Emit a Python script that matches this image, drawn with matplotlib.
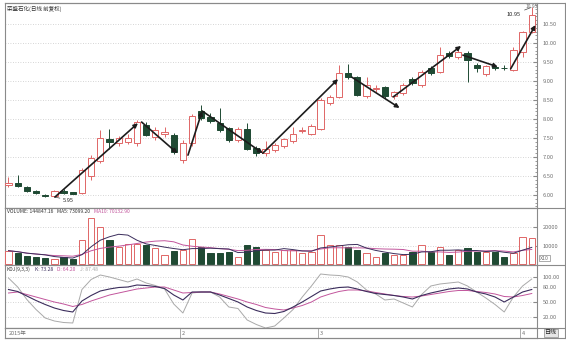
import matplotlib
matplotlib.use("Agg")
import matplotlib.pyplot as plt
import numpy as np
import pandas as pd
from matplotlib.lines import Line2D
from matplotlib.ticker import FixedLocator, MultipleLocator

plt.rcParams['font.family'] = ['Noto Sans CJK SC', 'DejaVu Sans']

# ---------------- data ----------------
opens = [6.26, 6.32, 6.21, 6.10, 6.01, 5.97, 6.12, 6.07, 6.05, 6.50,
         6.90, 7.47, 7.37, 7.40, 7.37, 7.84, 7.53, 7.60, 7.58, 6.92,
         7.37, 8.21, 8.05, 7.89, 7.76, 7.45, 7.74, 7.24, 7.10, 7.18,
         7.29, 7.42, 7.68, 7.61, 7.74, 8.42, 8.58, 9.21, 9.10, 8.60,
         8.80, 8.84, 8.60, 8.68, 9.05, 8.89, 9.34, 9.24, 9.74, 9.63,
         9.74, 9.42, 9.18, 9.38, 9.35, 9.29, 9.76, 10.29]
highs = [6.47, 6.53, 6.24, 6.13, 6.04, 6.13, 6.16, 6.09, 6.70, 7.05,
         7.71, 7.74, 7.55, 7.60, 7.97, 7.92, 7.80, 7.80, 7.62, 7.45,
         8.12, 8.37, 8.15, 8.29, 7.80, 7.78, 7.89, 7.28, 7.42, 7.36,
         7.50, 7.79, 7.78, 7.86, 8.55, 8.63, 9.42, 9.45, 9.14, 9.10,
         8.90, 8.88, 8.74, 8.95, 9.10, 9.30, 9.40, 9.90, 9.80, 9.85,
         9.80, 9.46, 9.42, 9.42, 9.42, 9.88, 10.32, 10.95]
lows = [6.20, 6.20, 6.08, 6.02, 5.96, 5.95, 6.03, 6.02, 6.02, 6.40,
        6.85, 7.20, 7.30, 7.35, 7.30, 7.55, 7.45, 7.52, 7.08, 6.85,
        7.30, 7.98, 7.90, 7.66, 7.40, 7.40, 7.18, 7.02, 7.02, 7.14,
        7.25, 7.38, 7.62, 7.58, 7.70, 8.37, 8.55, 9.05, 8.60, 8.55,
        8.72, 8.55, 8.52, 8.63, 8.90, 8.85, 9.15, 9.20, 9.60, 9.58,
        8.97, 9.24, 9.14, 9.30, 9.28, 9.25, 9.63, 10.25]
closes = [6.32, 6.24, 6.10, 6.05, 5.97, 6.10, 6.05, 6.04, 6.66, 6.97,
          7.50, 7.39, 7.50, 7.50, 7.92, 7.58, 7.71, 7.66, 7.13, 7.37,
          8.08, 8.03, 7.95, 7.71, 7.45, 7.74, 7.21, 7.10, 7.20, 7.32,
          7.47, 7.61, 7.71, 7.82, 8.50, 8.58, 9.21, 9.10, 8.63, 8.89,
          8.82, 8.60, 8.70, 8.90, 8.95, 9.24, 9.21, 9.68, 9.66, 9.76,
          9.55, 9.34, 9.39, 9.34, 9.34, 9.82, 10.29, 10.74]
volumes = [7200, 6100, 4300, 4000, 3200, 2500, 3700, 2700, 13000, 24700,
           20200, 13000, 9400, 10800, 10800, 10300, 8800, 4900, 7000, 7600,
           13300, 9000, 5800, 5800, 6700, 3600, 10300, 9400, 7600, 6700,
           7600, 7600, 5800, 6700, 15700, 10300, 10300, 9000, 7600, 5800,
           4000, 5800, 4900, 4900, 6700, 10300, 6300, 9000, 4900, 7600,
           8500, 6400, 6400, 6400, 4000, 5800, 14800, 13900]
k_vals = [75, 71, 62, 53, 45, 38, 33, 30, 52, 63,
          72, 76, 79, 80, 84, 83, 81, 77, 64, 54,
          70, 70, 70, 64, 57, 50, 40, 33, 28, 27,
          31, 40, 50, 61, 72, 76, 79, 80, 76, 71,
          67, 65, 63, 60, 56, 63, 68, 72, 76, 78,
          76, 70, 66, 60, 50, 60, 70, 75]
d_vals = [68, 70, 65, 60, 55, 50, 46, 41, 45, 52,
          58, 64, 68, 72, 76, 78, 80, 80, 74, 68,
          69, 70, 70, 66, 61, 56, 50, 45, 39, 36,
          34, 38, 43, 50, 60, 66, 71, 74, 74, 72,
          69, 66, 63, 61, 60, 62, 65, 68, 71, 73,
          73, 71, 69, 66, 61, 60, 63, 67]
j_vals = [98, 80, 55, 35, 18, 12, 9, 8, 75, 95,
          104, 100, 95, 90, 96, 88, 83, 76, 46, 28,
          68, 70, 70, 60, 40, 37, 14, 5, -2, 2,
          18, 35, 60, 82, 106, 104, 103, 100, 90, 74,
          66, 54, 56, 48, 40, 65, 82, 86, 88, 90,
          82, 70, 58, 45, 30, 60, 82, 96]

month_labels = ["2015年", "2", "3", "4"]
month_starts = [0, 19, 34, 56]

price_ticks = [6.0, 6.5, 7.0, 7.5, 8.0, 8.5, 9.0, 9.5, 10.0, 10.5]
vol_ticks = [10000, 20000]
kdj_ticks = [20, 50, 80, 100]

# trend arrows (start index, start price, end index, end price)
arrow_x0 = [5.07, 14.5, 19.55, 21.1, 27.7, 37.4, 41.9, 49.5, 54.7]
arrow_y0 = [5.95, 7.92, 7.05, 8.21, 7.10, 9.10, 8.58, 9.68, 9.32]
arrow_x1 = [14.1, 18.4, 21.1, 27.7, 35.9, 42.6, 49.3, 53.3, 57.4]
arrow_y1 = [7.89, 7.10, 8.21, 7.10, 9.05, 8.29, 9.92, 9.37, 10.47]

title_text = "荣盛石化(日线 前复权)"
vol_header = ["VOLUME: 144847.16", "MA5: 73099.20", "MA10: 70132.90"]
kdj_header = ["KDJ(9,3,3)", "K: 73.28", "D: 64.20", "J: 87.48"]

# ---------------- styling ----------------
W, H = 566, 340
UP = '#e06666'
DOWN = '#1f4a33'
GRID = '#c8c8c8'
FRAME = '#8a8a8a'
LAB = '#707070'
K_C = '#3b2d5c'
D_C = '#c2559c'
J_C = '#a9a9a9'

fig = plt.figure(figsize=(W / 100, H / 100), dpi=100)
fig.patch.set_facecolor('white')


def fax(x0, y0, x1, y1):
    return fig.add_axes([x0 / W, 1 - y1 / H, (x1 - x0) / W, (y1 - y0) / H])


ax = fax(5, 3, 537, 208)
axv = fax(5, 208, 537, 265)
axk = fax(5, 265, 537, 328)
axd = fax(5, 328, 537, 338)

n = len(opens)
x = np.arange(n)
o = np.array(opens); c = np.array(closes)
h = np.array(highs); l = np.array(lows)
up = c >= o
blo = np.minimum(o, c); bhi = np.maximum(o, c)
bh = np.maximum(bhi - blo, 0.006)
cols = np.where(up, UP, DOWN)
xlim = (-0.38, 57.57)

for a in (ax, axv, axk, axd):
    a.set_xlim(*xlim)
    a.set_xticks([])
    for s in a.spines.values():
        s.set_color(FRAME)
        s.set_linewidth(0.8)
    a.tick_params(axis='y', which='both', right=True, left=False,
                  labelright=True, labelleft=False, direction='in',
                  colors=FRAME, labelcolor=LAB, labelsize=4.1, pad=4)


def header(axis, parts, colours, size=3.6):
    t = axis.text(0.003, 0.975, parts[0], transform=axis.transAxes,
                  fontsize=size, color=colours[0], ha='left', va='top')
    for txt, col in zip(parts[1:], colours[1:]):
        t = axis.annotate(txt, xy=(1, 0), xycoords=t, xytext=(3, 0),
                          textcoords='offset points', fontsize=size,
                          color=col, ha='left', va='bottom')


# ---- main price panel ----
ax.set_ylim(5.66, 11.05)
ax.yaxis.set_major_locator(FixedLocator(price_ticks))
ax.yaxis.set_minor_locator(MultipleLocator(0.1))
ax.set_yticklabels([f"{t:.2f}" for t in price_ticks])
ax.tick_params(axis='y', which='major', length=3)
ax.tick_params(axis='y', which='minor', length=1.5, right=True, left=False, direction='in', colors=FRAME)
for t in price_ticks:
    ax.axhline(t, color=GRID, lw=0.6, ls=(0, (1, 2)), zorder=0)
ax.vlines(x, bhi, h, colors=cols, lw=0.7, zorder=2)
ax.vlines(x, l, blo, colors=cols, lw=0.7, zorder=2)
ax.bar(x[up], bh[up], bottom=blo[up], width=0.68, facecolor='white',
       edgecolor=UP, lw=0.7, zorder=3)
ax.bar(x[~up], bh[~up], bottom=blo[~up], width=0.68, facecolor=DOWN,
       edgecolor=DOWN, lw=0.7, zorder=3)

for xs, ys, xe, ye in zip(arrow_x0, arrow_y0, arrow_x1, arrow_y1):
    ax.annotate('', xy=(xe, ye), xytext=(xs, ys),
                arrowprops=dict(arrowstyle='-|>', color='#1c1c1c', lw=1.2,
                                mutation_scale=6, shrinkA=0, shrinkB=0),
                zorder=5)

ax.annotate('10.95', xy=(56.9, 10.93), xytext=(55.0, 10.75),
            fontsize=4.1, color='#222', ha='center', va='center',
            arrowprops=dict(arrowstyle='-', color='#444', lw=0.5, shrinkA=1, shrinkB=0))
ax.annotate('5.95', xy=(5.0, 5.95), xytext=(5.9, 5.87),
            fontsize=4.1, color='#222', ha='left', va='center',
            arrowprops=dict(arrowstyle='-', color='#444', lw=0.5, shrinkA=0, shrinkB=0))
ax.text(0.004, 0.985, title_text, transform=ax.transAxes, fontsize=4.0,
        color='#333', ha='left', va='top')

# ---- volume panel ----
vol = np.array(volumes)
axv.set_ylim(-540, 30270)
axv.yaxis.set_major_locator(FixedLocator(vol_ticks))
axv.set_yticklabels([str(t) for t in vol_ticks])
axv.tick_params(axis='y', length=3)
for t in vol_ticks:
    axv.axhline(t, color=GRID, lw=0.6, ls=(0, (1, 2)), zorder=0)
axv.bar(x[up], vol[up], width=0.68, facecolor='white', edgecolor=UP, lw=0.7, zorder=3)
axv.bar(x[~up], vol[~up], width=0.68, facecolor=DOWN, edgecolor=DOWN, lw=0.7, zorder=3)
vs = pd.Series(vol, dtype=float)
ma5 = vs.rolling(5, min_periods=1).mean()
ma10 = vs.rolling(10, min_periods=1).mean()
axv.plot(x, ma10, color=D_C, lw=0.7, zorder=4)
axv.plot(x, ma5, color=K_C, lw=0.7, zorder=4)
header(axv, vol_header, ['#333', '#333', D_C])

# ---- KDJ panel ----
axk.set_ylim(-2, 124)
axk.yaxis.set_major_locator(FixedLocator(kdj_ticks))
axk.set_yticklabels([f"{t:.2f}" for t in kdj_ticks])
axk.tick_params(axis='y', length=3)
for t in kdj_ticks:
    axk.axhline(t, color=GRID, lw=0.6, ls=(0, (1, 2)), zorder=0)
axk.plot(x, j_vals, color=J_C, lw=0.7)
axk.plot(x, d_vals, color=D_C, lw=0.7)
axk.plot(x, k_vals, color=K_C, lw=0.8)
header(axk, kdj_header, ['#333', K_C, D_C, J_C])

# ---- date strip ----
axd.set_ylim(0, 1)
axd.set_yticks([])
axd.tick_params(axis='y', right=False, labelright=False)
for lab, idx in zip(month_labels, month_starts):
    if idx == 0:
        axd.text(0.0, 0.45, lab, fontsize=4.0, color=LAB, ha='left', va='center')
    else:
        axd.vlines(idx - 0.3, 0, 1, color=FRAME, lw=0.5)
        axd.text(idx - 0.1, 0.45, lab, fontsize=4.0, color=LAB, ha='left', va='center')

# ---- frame lines in the right column ----
for yy in (3, 208, 265, 328, 338):
    fig.add_artist(Line2D([5 / W, 1 - 1 / W], [1 - yy / H, 1 - yy / H],
                          color=FRAME, lw=0.8))
fig.add_artist(Line2D([1 - 1 / W, 1 - 1 / W], [1 - 3 / H, 1 - 338 / H], color=FRAME, lw=0.8))
fig.text(532 / W, 1 - 6 / H, '10.95', fontsize=3.6, color=LAB, ha='center', va='center')
fig.text(540 / W, 1 - 258 / H, 'X10', fontsize=3.8, color=LAB, ha='left', va='center',
         bbox=dict(boxstyle='square,pad=0.15', fc='white', ec=FRAME, lw=0.5))
fig.text(551 / W, 1 - 333 / H, '日线', fontsize=4.3, color='#222', ha='center', va='center',
         bbox=dict(boxstyle='square,pad=0.2', fc='#e6e6e6', ec=FRAME, lw=0.5))

fig.savefig('out.png', dpi=100)
